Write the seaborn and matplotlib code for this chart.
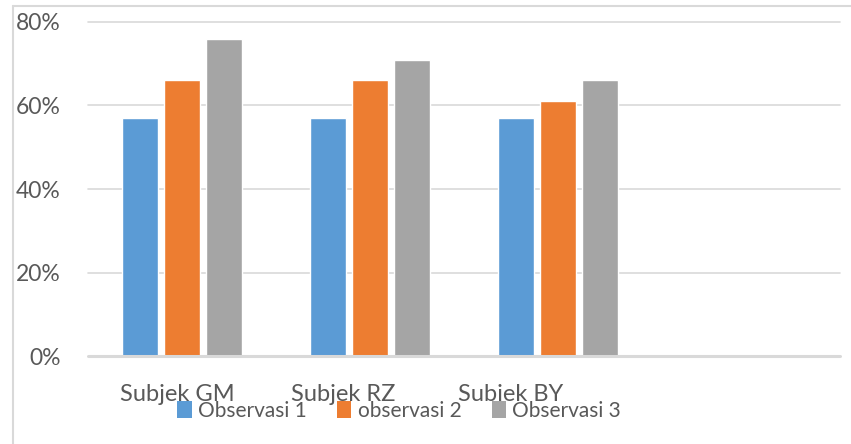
import matplotlib
matplotlib.use("Agg")
import matplotlib.pyplot as plt
import matplotlib.patches as mpatches
from matplotlib.lines import Line2D
import seaborn as sns
import pandas as pd

# Chart data
subjects = ["Subjek GM", "Subjek RZ", "Subjek BY", ""]
series = ["Observasi 1", "observasi 2", "Observasi 3"]
obs1 = [57, 57, 57]
obs2 = [66, 66, 61]
obs3 = [76, 71, 66]
y_ticks = [0, 20, 40, 60, 80]
y_tick_labels = ["0%", "20%", "40%", "60%", "80%"]

colors = ["#5B9BD5", "#ED7D31", "#A5A5A5"]
text_color = "#595959"
grid_color = "#D9D9D9"

rows = []
for name, vals in zip(series, [obs1, obs2, obs3]):
    for subj, v in zip(subjects[:3], vals):
        rows.append({"subjek": subj, "seri": name, "nilai": v})
df = pd.DataFrame(rows)

sns.set_theme(style="white")
plt.rcParams["font.family"] = ["Lato", "DejaVu Sans"]

W, H = 851, 444
fig = plt.figure(figsize=(W / 100, H / 100), dpi=100)
ax = fig.add_axes([88 / W, (H - 356) / H, (840 - 88) / W, (356 - 22) / H])

sns.barplot(data=df, x="subjek", y="nilai", hue="seri", order=subjects,
            hue_order=series, palette=colors, width=0.665, gap=0.14,
            saturation=1, errorbar=None, legend=False, ax=ax, zorder=3)

ax.set_xlim(-0.5, 3.5)
ax.set_ylim(0, 80)
ax.set_xlabel("")
ax.set_ylabel("")

# Horizontal gridlines and base line
for t in y_ticks[1:]:
    ax.axhline(t, color=grid_color, lw=1.2, zorder=1, clip_on=False)
ax.axhline(0, color=grid_color, lw=2.2, zorder=4, clip_on=False)

ax.set_yticks(y_ticks, y_tick_labels)
ax.tick_params(axis="y", length=0, pad=19.5, labelsize=16.5, labelcolor=text_color)

# Category labels sit left of the group centres
label_shift = [-0.33, -0.42, -0.53]
ax.set_xticks([i + s for i, s in enumerate(label_shift)], subjects[:3])
for lbl in ax.get_xticklabels():
    lbl.set_horizontalalignment("left")
ax.tick_params(axis="x", length=0, pad=20, labelsize=17, labelcolor=text_color)

for sp in ax.spines.values():
    sp.set_visible(False)

# Legend along the bottom
handles = [mpatches.Patch(facecolor=c, edgecolor="none", label=s)
           for c, s in zip(colors, series)]
leg = fig.legend(handles=handles, loc="center", ncol=3,
                 bbox_to_anchor=(399 / W, (H - 411) / H), frameon=False,
                 fontsize=15.0, handlelength=0.7, handleheight=0.9,
                 handletextpad=0.3, columnspacing=1.45,
                 labelcolor=text_color)

# Outer chart frame: left and top edges
x0, y0 = 13 / W, 1 - 6 / H
fig.add_artist(Line2D([x0, x0], [0, y0], transform=fig.transFigure,
                      color=grid_color, lw=1.5))
fig.add_artist(Line2D([x0, 1], [y0, y0], transform=fig.transFigure,
                      color=grid_color, lw=1.5))

fig.savefig("out.png", dpi=100)
